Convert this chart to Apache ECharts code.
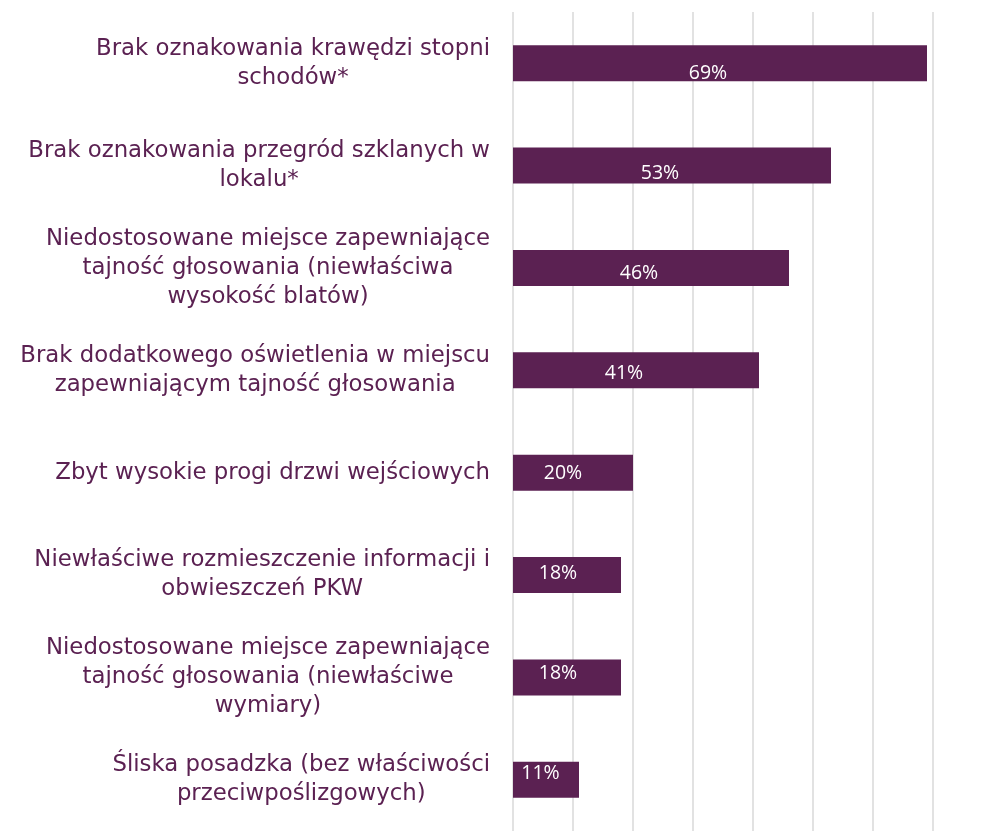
<!DOCTYPE html>
<html>
<head>
<meta charset="utf-8">
<script src="https://cdn.jsdelivr.net/npm/echarts@6/dist/echarts.min.js"></script>
<style>
html,body{margin:0;padding:0;background:#fff;}
#chart{width:987px;height:831px;}
</style>
</head>
<body>
<div id="chart"></div>
<script>
const categories = [
  "Brak oznakowania krawędzi stopni\nschodów*",
  "Brak oznakowania przegród szklanych w\nlokalu*",
  "Niedostosowane miejsce zapewniające\ntajność głosowania (niewłaściwa\nwysokość blatów)",
  "Brak dodatkowego oświetlenia w miejscu\nzapewniającym tajność głosowania",
  "Zbyt wysokie progi drzwi wejściowych",
  "Niewłaściwe rozmieszczenie informacji i\nobwieszczeń PKW",
  "Niedostosowane miejsce zapewniające\ntajność głosowania (niewłaściwe\nwymiary)",
  "Śliska posadzka (bez właściwości\nprzeciwpoślizgowych)"
];
const values = [69, 53, 46, 41, 20, 18, 18, 11];
const xTicks = { min: 0, max: 70, interval: 10 };

const purple = '#5B2152';
const chart = echarts.init(document.getElementById('chart'));
chart.setOption({
  animation: false,
  grid: { left: 513, width: 420, top: 12, height: 824, containLabel: false },
  xAxis: {
    type: 'value', min: xTicks.min, max: xTicks.max, interval: xTicks.interval,
    axisLabel: { show: false }, axisLine: { show: false }, axisTick: { show: false },
    splitLine: { show: true, lineStyle: { color: '#d9d9d9', width: 1.5 } }
  },
  yAxis: {
    type: 'category', inverse: true, data: categories,
    axisLine: { show: false }, axisTick: { show: false },
    axisLabel: {
      margin: 23, align: 'right',
      formatter: function (v) {
        return v.split('\n').map(l => '{a|' + l + '}').join('\n');
      },
      rich: { a: { align: 'center', fontFamily: 'DejaVu Sans', fontSize: 22.8, lineHeight: 29, color: purple } }
    }
  },
  series: [{
    type: 'bar',
    data: values.map((v, i) => ({ value: v, label: { offset: [-Math.min(12, v / 2), 10 - 2.4 * i] } })),
    barWidth: 36,
    itemStyle: { color: purple },
    label: {
      show: true, position: 'inside',
      formatter: '{c}%', color: '#fff', fontFamily: 'Open Sans', fontSize: 19.5
    }
  }]
});
</script>
</body>
</html>
